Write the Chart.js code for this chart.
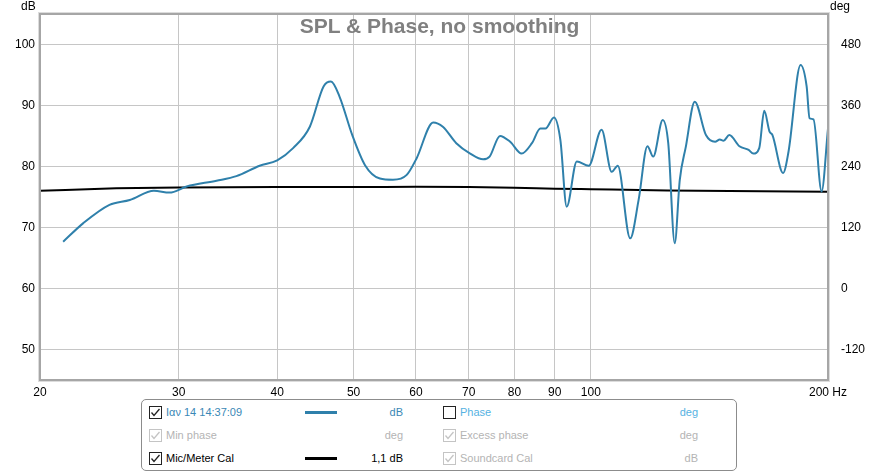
<!DOCTYPE html>
<html><head><meta charset="utf-8">
<script src="https://cdn.jsdelivr.net/npm/chart.js@4"></script>
<style>
html,body{margin:0;padding:0;background:#fff;}
#wrap{position:relative;width:879px;height:473px;overflow:hidden;font-family:"Liberation Sans",Arial,sans-serif;}
#c{position:absolute;left:0;top:0;}
.t{position:absolute;white-space:nowrap;line-height:14px;}
#legend{position:absolute;left:141px;top:399px;width:594px;height:70px;border:1px solid #8c8c8c;border-radius:5px;background:#fff;}
.lg{position:absolute;white-space:nowrap;font-size:11px;line-height:14px;}
.r{text-align:right;}
.cb{position:absolute;width:13px;height:13px;}
.ls{position:absolute;height:3px;width:32px;}
</style></head><body>
<div id="wrap">
<canvas id="c" width="879" height="473"></canvas>
<div class="t" style="left:0;width:879px;text-align:center;top:15px;font-size:21px;line-height:22px;font-weight:bold;color:#808080;">SPL &amp; Phase, no smoothing</div>
<div class="t" style="left:21px;top:-1px;font-size:12px;color:#000;">dB</div>
<div class="t" style="left:830px;top:-1px;font-size:12px;color:#000;">deg</div>
<div id="legend"></div>
</div>
<script>
// ---- data ----
const freqHz = [21.4, 22.7, 24.5, 26.0, 27.9, 29.2, 30.7, 33.5, 35.5, 38.0, 40.0, 41.9, 44.0, 45.8, 46.8, 48.0, 49.8, 51.7, 54.0, 56.1, 58.4, 60.1, 63.1, 64.9, 67.5, 70.3, 73.0, 74.4, 76.7, 79.0, 81.7, 84.2, 86.3, 87.6, 89.8, 91.5, 93.2, 96.0, 99.4, 103.2, 106.3, 108.2, 112.2, 115.0, 118.0, 120.0, 123.4, 125.4, 127.8, 129.7, 132.0, 135.5, 140.0, 143.8, 145.8, 147.4, 149.9, 154.4, 158.6, 160.8, 163.6, 166.0, 168.6, 170.0, 175.4, 178.2, 184.6, 187.9, 189.5, 191.7, 196.3, 200];
const splDb  = [67.75, 70.8, 73.8, 74.6, 76.1, 75.8, 76.8, 77.75, 78.5, 80.2, 81.1, 83.1, 86.6, 93.2, 94.0, 91.5, 85.25, 80.3, 78.1, 77.9, 78.7, 81.4, 87.3, 86.6, 83.9, 82.2, 81.25, 81.7, 85.1, 84.15, 82.2, 83.9, 86.3, 86.3, 88.1, 84.4, 73.5, 80.9, 80.2, 86.1, 79.2, 80.2, 68.3, 74.6, 83.4, 81.7, 87.7, 83.9, 67.5, 77.9, 83.3, 90.7, 85.25, 84.15, 84.5, 84.3, 85.25, 83.4, 82.8, 82.2, 83.1, 89.2, 85.8, 85.25, 79.0, 82.5, 96.7, 93.2, 88.0, 87.8, 76.0, 86.3];
const calFreqHz = [20, 25, 30, 40, 50, 60, 70, 80, 90, 100, 125, 150, 200];
const calDb     = [76.1, 76.5, 76.65, 76.7, 76.7, 76.75, 76.7, 76.6, 76.45, 76.35, 76.15, 76.05, 75.95];
const xTickHz = [20, 30, 40, 50, 60, 70, 80, 90, 100, 200];
const dbTicks = [50, 60, 70, 80, 90, 100];
const degTicks = [-120, 0, 120, 240, 360, 480];

const FONT = '"Liberation Sans", Arial, sans-serif';
const GRID = '#c6c6c6';

const framePlugin = {
  id: 'frame',
  afterDraw(chart) {
    const a = chart.chartArea, c = chart.ctx;
    c.save();
    c.strokeStyle = '#dcdcdc'; c.lineWidth = 1;
    c.strokeRect(a.left - 1.5, a.top - 1.5, a.right - a.left + 3, a.bottom - a.top + 3);
    c.strokeStyle = '#a6a6a6'; c.lineWidth = 2;
    c.strokeRect(a.left, a.top, a.right - a.left, a.bottom - a.top);
    c.restore();
  }
};

new Chart(document.getElementById('c').getContext('2d'), {
  type: 'line',
  data: {
    datasets: [
      { label: 'Ιαν 14 14:37:09', data: freqHz.map((f, i) => ({ x: f, y: splDb[i] })),
        borderColor: '#2f80ab', borderWidth: 2, pointRadius: 0, cubicInterpolationMode: 'monotone', yAxisID: 'y' },
      { label: 'Mic/Meter Cal', data: calFreqHz.map((f, i) => ({ x: f, y: calDb[i] })),
        borderColor: '#000000', borderWidth: 2, pointRadius: 0, cubicInterpolationMode: 'monotone', yAxisID: 'y' }
    ]
  },
  options: {
    responsive: false, animation: false, devicePixelRatio: 1,
    layout: { padding: { top: 14, left: 0, right: 0, bottom: 0 } },
    plugins: { legend: { display: false }, tooltip: { enabled: false }, title: { display: false } },
    scales: {
      x: {
        type: 'logarithmic', min: 20, max: 200,
        afterBuildTicks: s => { s.ticks = xTickHz.map(v => ({ value: v })); },
        afterFit: s => { s.height = 93; },
        ticks: { autoSkip: false, maxRotation: 0, padding: 5, color: '#000', font: { size: 12, family: FONT },
                 callback: v => (v === 200 ? '200 Hz' : String(v)) },
        grid: { color: GRID, drawTicks: false }, border: { display: false }
      },
      y: {
        position: 'left', min: 45.08, max: 105.08,
        afterBuildTicks: s => { s.ticks = dbTicks.map(v => ({ value: v })); },
        afterFit: s => { s.width = 40; },
        ticks: { padding: 5, color: '#000', font: { size: 12, family: FONT } },
        grid: { color: GRID, drawTicks: false }, border: { display: false }
      },
      y2: {
        position: 'right', min: -179, max: 541,
        afterBuildTicks: s => { s.ticks = degTicks.map(v => ({ value: v })); },
        afterFit: s => { s.width = 51; },
        ticks: { padding: 5, color: '#000', font: { size: 12, family: FONT } },
        grid: { display: false }, border: { display: false }
      }
    }
  },
  plugins: [framePlugin]
});

// ---- legend (HTML) ----
function checkbox(x, y, color) {
  return '<svg class="cb" style="left:' + x + 'px;top:' + y + 'px" width="13" height="13" viewBox="0 0 13 13">' +
    '<rect x="0.5" y="0.5" width="12" height="12" fill="#fff" stroke="' + color + '"/>' +
    '<polyline points="2.5,6.5 5,9.5 10.5,3" fill="none" stroke="' + color + '" stroke-width="1.3"/></svg>';
}
function emptyBox(x, y, color) {
  return '<svg class="cb" style="left:' + x + 'px;top:' + y + 'px" width="13" height="13" viewBox="0 0 13 13">' +
    '<rect x="0.5" y="0.5" width="12" height="12" fill="#fff" stroke="' + color + '"/></svg>';
}
const L = -142, T = -400; // legend-local offsets
const rows = [
  { y: 406, c1: { text: 'Ιαν 14 14:37:09', color: '#3a88b6', box: 'check', boxColor: '#222', line: '#2f80ab', unit: 'dB' },
            c2: { text: 'Phase', color: '#55b2e2', box: 'empty', boxColor: '#222', unit: 'deg' } },
  { y: 429, c1: { text: 'Min phase', color: '#b4b4b4', box: 'check', boxColor: '#c4c4c4', unit: 'deg' },
            c2: { text: 'Excess phase', color: '#b4b4b4', box: 'check', boxColor: '#c4c4c4', unit: 'deg' } },
  { y: 452, c1: { text: 'Mic/Meter Cal', color: '#000', box: 'check', boxColor: '#222', line: '#000', unit: '1,1 dB' },
            c2: { text: 'Soundcard Cal', color: '#b4b4b4', box: 'check', boxColor: '#c4c4c4', unit: 'dB' } }
];
let h = '';
rows.forEach(r => {
  const yy = r.y + T;
  [[r.c1, 149, 166, 403], [r.c2, 443, 460, 698]].forEach(([c, bx, tx, ux]) => {
    h += c.box === 'check' ? checkbox(bx + L, yy, c.boxColor) : emptyBox(bx + L, yy, c.boxColor);
    h += '<div class="lg" style="left:' + (tx + L) + 'px;top:' + (yy - 1) + 'px;color:' + c.color + '">' + c.text + '</div>';
    if (c.line) h += '<div class="ls" style="left:' + (305 + L) + 'px;top:' + (yy + 5) + 'px;background:' + c.line + '"></div>';
    h += '<div class="lg r" style="left:' + (ux - 80 + L) + 'px;width:80px;top:' + (yy - 1) + 'px;color:' + c.color + '">' + c.unit + '</div>';
  });
});
document.getElementById('legend').innerHTML = h;
</script>
</body></html>
